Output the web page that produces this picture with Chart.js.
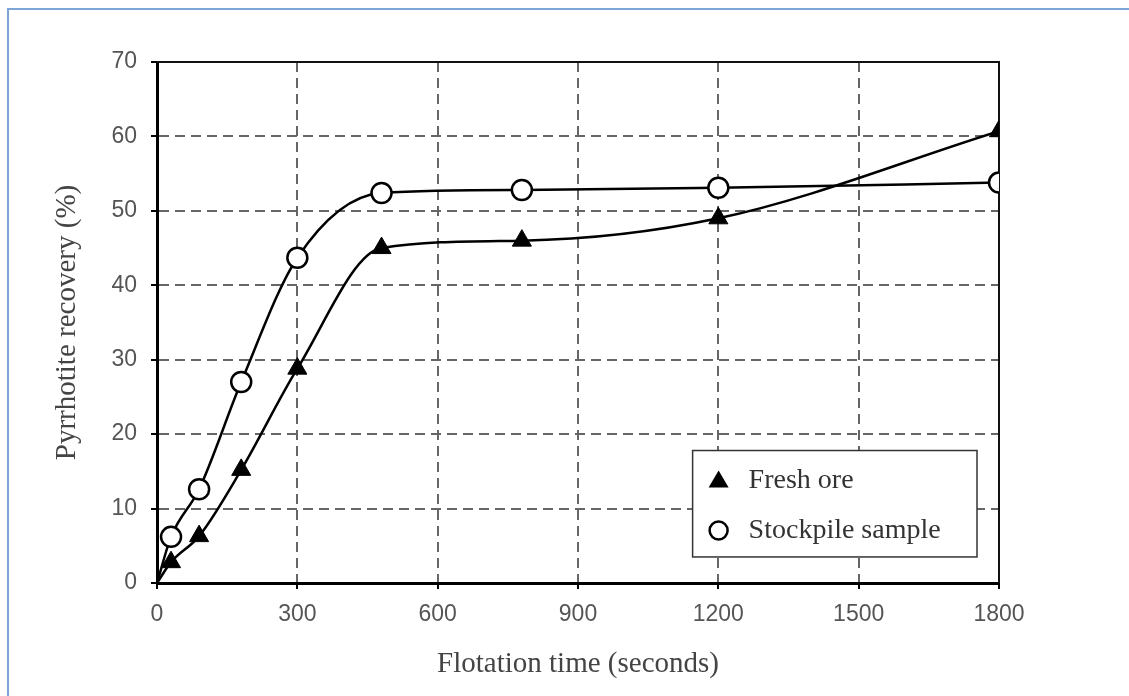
<!DOCTYPE html>
<html>
<head>
<meta charset="utf-8">
<script src="https://cdn.jsdelivr.net/npm/chart.js@4"></script>
<style>
  html, body { margin: 0; padding: 0; background: #fff; overflow: hidden; }
  #frame {
    position: absolute; left: 7px; top: 8px; width: 1200px; height: 800px;
    border-left: 2px solid #7fa4d8; border-top: 2px solid #7fa4d8;
  }
  #wrap { position: absolute; left: 0; top: 0; width: 1129px; height: 696px; }
</style>
</head>
<body>
<div id="frame"></div>
<div id="wrap"><canvas id="chart" width="1129" height="696"></canvas></div>
<script>
const times = [0, 30, 90, 180, 300, 480, 780, 1200, 1800];
const freshOre = [0, 2.8, 6.3, 15.2, 28.8, 45.0, 46.0, 49.0, 60.7];
const stockpile = [0, 6.2, 12.6, 27.0, 43.7, 52.4, 52.8, 53.1, 53.8];
const xTicks = [0, 300, 600, 900, 1200, 1500, 1800];
const yTicks = [0, 10, 20, 30, 40, 50, 60, 70];

const seriesNames = ['Fresh ore', 'Stockpile sample'];

function toPoints(vals) {
  return times.map((t, i) => ({ x: t, y: vals[i] }));
}

// no marker at the origin, the curves just start there
const radii = times.map(t => (t === 0 ? 0 : 11));
const circleRadii = times.map(t => (t === 0 ? 0 : 10));

const framePlugin = {
  id: 'frame',
  beforeDatasetsDraw(chart) {
    const { ctx, chartArea } = chart;
    ctx.save();
    ctx.strokeStyle = '#111';
    ctx.lineWidth = 2;
    ctx.beginPath();
    ctx.moveTo(chartArea.left, chartArea.top);
    ctx.lineTo(chartArea.right, chartArea.top);
    ctx.lineTo(chartArea.right, chartArea.bottom);
    ctx.stroke();
    ctx.restore();
  }
};

const boxLegend = {
  id: 'boxLegend',
  afterDraw(chart) {
    const { ctx } = chart;
    const xs = chart.scales.x;
    const ys = chart.scales.y;
    const left = xs.getPixelForValue(1145);
    const right = xs.getPixelForValue(1753);
    const top = ys.getPixelForValue(17.8);
    const bottom = ys.getPixelForValue(3.5);
    ctx.save();
    ctx.fillStyle = '#fff';
    ctx.fillRect(left, top, right - left, bottom - top);
    ctx.strokeStyle = '#333';
    ctx.lineWidth = 1.5;
    ctx.strokeRect(left, top, right - left, bottom - top);
    const mx = left + 26;
    const tx = left + 56;
    const rows = [top + 30, top + 80];
    // triangle
    ctx.fillStyle = '#000';
    ctx.beginPath();
    ctx.moveTo(mx, rows[0] - 10);
    ctx.lineTo(mx + 10, rows[0] + 7);
    ctx.lineTo(mx - 10, rows[0] + 7);
    ctx.closePath();
    ctx.fill();
    // circle
    ctx.beginPath();
    ctx.arc(mx, rows[1], 9, 0, Math.PI * 2);
    ctx.fillStyle = '#fff';
    ctx.fill();
    ctx.lineWidth = 2.5;
    ctx.strokeStyle = '#000';
    ctx.stroke();
    ctx.fillStyle = '#333';
    ctx.font = '28px "Liberation Serif", serif';
    ctx.textBaseline = 'middle';
    ctx.fillText(seriesNames[0], tx, rows[0]);
    ctx.fillText(seriesNames[1], tx, rows[1]);
    ctx.restore();
  }
};

const gridColor = ctx => {
  const v = ctx.tick ? ctx.tick.value : 0;
  return (v === 0 || v === 70 || v === 1800) ? 'rgba(0,0,0,0)' : '#666';
};

new Chart(document.getElementById('chart').getContext('2d'), {
  type: 'line',
  data: {
    datasets: [{
      label: seriesNames[0],
      data: toPoints(freshOre),
      borderColor: '#000',
      backgroundColor: '#000',
      borderWidth: 2.5,
      pointStyle: 'triangle',
      pointRadius: radii,
      pointBorderWidth: 1,
      cubicInterpolationMode: 'monotone'
    }, {
      label: seriesNames[1],
      data: toPoints(stockpile),
      borderColor: '#000',
      backgroundColor: '#fff',
      borderWidth: 2.5,
      pointStyle: 'circle',
      pointRadius: circleRadii,
      pointBorderWidth: 2.5,
      cubicInterpolationMode: 'monotone'
    }]
  },
  options: {
    responsive: false,
    animation: false,
    layout: { padding: { left: 10, top: 62, right: 130, bottom: 14 } },
    plugins: { legend: { display: false }, tooltip: { enabled: false } },
    scales: {
      x: {
        type: 'linear',
        min: 0,
        max: 1800,
        afterBuildTicks: s => { s.ticks = xTicks.map(v => ({ value: v })); },
        afterFit: s => { s.height = 99; },
        border: { color: '#000', width: 3, dash: [10, 6] },
        grid: { color: gridColor, lineWidth: 2, tickColor: '#000', tickLength: 6, tickWidth: 2, tickBorderDash: [] },
        ticks: {
          color: '#555', padding: 12,
          font: { family: '"Liberation Sans", Arial, sans-serif', size: 23 },
          callback: v => String(v)
        },
        title: {
          display: true, text: 'Flotation time (seconds)', color: '#444',
          font: { family: '"Liberation Serif", serif', size: 29 }, padding: { top: 10, bottom: 0 }
        }
      },
      y: {
        type: 'linear',
        min: 0,
        max: 70,
        afterBuildTicks: s => { s.ticks = yTicks.map(v => ({ value: v })); },
        afterFit: s => { s.width = 147; },
        border: { color: '#000', width: 3, dash: [10, 6] },
        grid: { color: gridColor, lineWidth: 2, tickColor: '#000', tickLength: 6, tickWidth: 2, tickBorderDash: [] },
        ticks: {
          color: '#555', padding: 14,
          font: { family: '"Liberation Sans", Arial, sans-serif', size: 23 },
          callback: v => String(v)
        },
        title: {
          display: true, text: 'Pyrrhotite recovery (%)', color: '#444',
          font: { family: '"Liberation Serif", serif', size: 29 }, padding: { top: 40, bottom: 0 }
        }
      }
    }
  },
  plugins: [framePlugin, boxLegend]
});
</script>
</body>
</html>
